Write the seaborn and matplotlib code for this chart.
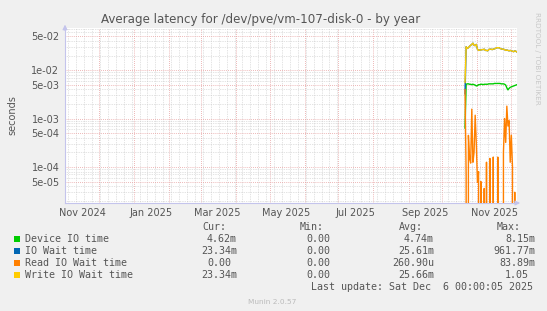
import matplotlib
matplotlib.use("Agg")
import matplotlib.pyplot as plt
import matplotlib.dates as mdates
import matplotlib.ticker as mticker
import matplotlib.transforms as mtransforms
from matplotlib.patches import Rectangle
import pandas as pd
import seaborn as sns

# ---------------- data ----------------
start_day = "2025-10-21"
n_days = 47

device_io = [0.00063, 0.0051, 0.0052, 0.0052, 0.0051, 0.0051, 0.0050, 0.0051, 0.0050, 0.0049,
             0.0047, 0.0048, 0.0050, 0.0050, 0.0051, 0.0051, 0.0050, 0.0051, 0.0051, 0.0051,
             0.0051, 0.0052, 0.0052, 0.0052, 0.0052, 0.0052, 0.0053, 0.0053, 0.0053, 0.0053,
             0.0053, 0.0053, 0.0052, 0.0052, 0.0052, 0.0051, 0.0049, 0.0043, 0.0039, 0.0042,
             0.0044, 0.0045, 0.0046, 0.0047, 0.0048, 0.0049, 0.0050]

io_wait = [0.0032, 0.0303, 0.028, 0.029, 0.031, 0.0325, 0.034, 0.036, 0.0325, 0.032,
           0.034, 0.027, 0.0255, 0.026, 0.026, 0.0265, 0.0265, 0.027, 0.0255, 0.0255,
           0.025, 0.0265, 0.027, 0.027, 0.0265, 0.027, 0.0275, 0.028, 0.029, 0.029,
           0.029, 0.028, 0.0275, 0.027, 0.027, 0.0265, 0.0255, 0.026, 0.0255, 0.025,
           0.0255, 0.025, 0.0245, 0.024, 0.025, 0.0245, 0.0235]

read_wait = [0.004, 6.7e-5, 0, 4.5e-4, 1.5e-4, 1.2e-4, 1.56e-3, 1.25e-4, 2e-4, 1.17e-3,
             3e-4, 4.8e-5, 8e-5, 0, 5e-5, 0, 0, 3.6e-5, 0, 1.25e-4,
             0, 0, 1.5e-4, 0, 0, 1.6e-4, 0, 0, 0, 1.6e-4,
             0, 0, 0, 0, 2e-4, 1.0e-3, 3.2e-4, 1.8e-3, 7e-4, 9e-4,
             1.25e-4, 4.5e-4, 1e-4, 0, 3e-5, 0, 0]

write_wait = [0.0055, 0.0303, 0.028, 0.029, 0.031, 0.0325, 0.034, 0.036, 0.0325, 0.032,
              0.034, 0.027, 0.0255, 0.026, 0.026, 0.0265, 0.0265, 0.027, 0.0255, 0.0255,
              0.025, 0.0265, 0.027, 0.027, 0.0265, 0.027, 0.0275, 0.028, 0.029, 0.029,
              0.029, 0.028, 0.0275, 0.027, 0.027, 0.0265, 0.0255, 0.026, 0.0255, 0.025,
              0.0255, 0.025, 0.0245, 0.024, 0.025, 0.0245, 0.0235]

series_names = ["Device IO time", "IO Wait time", "Read IO Wait time", "Write IO Wait time"]
series_colors = ["#00CC00", "#0066B3", "#FF8000", "#FFCC00"]
cur_vals = ["4.62m", "23.34m", "0.00", "23.34m"]
min_vals = ["0.00", "0.00", "0.00", "0.00"]
avg_vals = ["4.74m", "25.61m", "260.90u", "25.66m"]
max_vals = ["8.15m", "961.77m", "83.89m", "1.05"]

ytick_vals = [5e-5, 1e-4, 5e-4, 1e-3, 5e-3, 1e-2, 5e-2]
ytick_labels = ["5e-05", "1e-04", "5e-04", "1e-03", "5e-03", "1e-02", "5e-02"]
xlabel_months = ["2024-11", "2025-01", "2025-03", "2025-05", "2025-07", "2025-09", "2025-11"]
xlabel_texts = ["Nov 2024", "Jan 2025", "Mar 2025", "May 2025", "Jul 2025", "Sep 2025", "Nov 2025"]

title = "Average latency for /dev/pve/vm-107-disk-0 - by year"
last_update = "Last update: Sat Dec  6 00:00:05 2025"

# ---------------- figure ----------------
sns.set_theme(style="white")
plt.rcParams["font.family"] = ["DejaVu Sans"]

W, H = 547, 311
fig = plt.figure(figsize=(W / 100, H / 100), dpi=100, facecolor="#F0F0F0")
L, R, T, B = 65, 517, 28, 203
ax = fig.add_axes([L / W, 1 - B / H, (R - L) / W, (B - T) / H])
ax.set_facecolor("white")

df = pd.DataFrame({
    "date": pd.date_range(start_day, periods=n_days, freq="D"),
    "device": device_io,
    "iowait": io_wait,
    "read": read_wait,
    "write": write_wait,
})

for col, color in zip(["device", "iowait", "read", "write"], series_colors):
    sns.lineplot(data=df, x="date", y=col, color=color, lw=1.0, ax=ax,
                 estimator=None, legend=False, zorder=3)

ax.set_yscale("log", nonpositive="clip")
ax.set_xlim(pd.Timestamp("2024-11-01"), pd.Timestamp("2025-12-06"))
ax.set_ylim(1.8e-5, 7.4e-2)
ax.set_xlabel("")
ax.set_ylabel("")

# ticks & grid
ax.xaxis.set_major_locator(mdates.MonthLocator())
ax.xaxis.set_major_formatter(mticker.NullFormatter())
ax.xaxis.set_minor_locator(mdates.WeekdayLocator(byweekday=mdates.MO))
ax.set_yticks(ytick_vals, labels=ytick_labels)
ax.yaxis.set_minor_locator(mticker.LogLocator(base=10, subs=(2, 3, 4, 6, 7, 8, 9)))
ax.yaxis.set_minor_formatter(mticker.NullFormatter())

ax.grid(which="minor", color="#C8C8C8", linestyle=(0, (1, 1.5)), lw=0.5, zorder=0)
ax.grid(which="major", color="#E8A0A0", linestyle=(0, (1, 1.5)), lw=0.6, zorder=1)
ax.set_axisbelow(True)

axis_col = "#C4C4EC"
ax.tick_params(which="major", length=2, width=0.6, color=axis_col, labelsize=7,
               labelcolor="#555555", pad=2)
ax.tick_params(which="minor", length=1.2, width=0.5, color=axis_col)
for s in ["top", "right"]:
    ax.spines[s].set_visible(False)
for s in ["left", "bottom"]:
    ax.spines[s].set_color(axis_col)
    ax.spines[s].set_linewidth(0.8)

ax.annotate("", xy=(0, 1.035), xytext=(0, 0.97), xycoords="axes fraction",
            arrowprops=dict(arrowstyle="-|>", color=axis_col, lw=0.8, mutation_scale=7),
            annotation_clip=False)
ax.annotate("", xy=(1.013, 0), xytext=(0.99, 0), xycoords="axes fraction",
            arrowprops=dict(arrowstyle="-|>", color=axis_col, lw=0.8, mutation_scale=7),
            annotation_clip=False)

# x labels centred in the middle of the month
trans = mtransforms.blended_transform_factory(ax.transData, ax.transAxes)
for m, txt in zip(xlabel_months, xlabel_texts):
    xpos = mdates.date2num(pd.Timestamp(m + "-01") + pd.Timedelta(days=15))
    ax.text(xpos, -9.5 / (B - T), txt, transform=trans, ha="center", va="center",
            fontsize=7, color="#555555")

# title / labels
fig.text(261 / W, 1 - 19 / H, title, ha="center", va="center", fontsize=8.6, color="#555555")
fig.text(12 / W, 1 - 115 / H, "seconds", rotation=90, ha="center", va="center",
         fontsize=7, color="#555555")
fig.text(537.5 / W, 1 - 58 / H, "RRDTOOL / TOBI OETIKER", rotation=270, ha="center",
         va="center", fontsize=5.2, color="#C8C8C8")

# legend (monospace)
mono = "DejaVu Sans Mono"
fs = 7.2
tc = "#555555"

def fy(y):
    return 1 - y / H

header_base = 230
for x, h in zip([202, 300, 399, 497], ["Cur:", "Min:", "Avg:", "Max:"]):
    fig.text(x / W, fy(header_base), h, family=mono, fontsize=fs, color=tc,
             ha="left", va="baseline")

col_right = [237, 336, 434, 535]
for i, name in enumerate(series_names):
    base = 242 + 12 * i
    fig.patches.append(Rectangle((14 / W, fy(base)), 6 / W, 6 / H,
                                 transform=fig.transFigure, facecolor=series_colors[i],
                                 edgecolor="none"))
    fig.text(25 / W, fy(base), name, family=mono, fontsize=fs, color=tc,
             ha="left", va="baseline")
    for xr, vals in zip(col_right, [cur_vals, min_vals, avg_vals, max_vals]):
        v = vals[i]
        xx = xr if v[-1].isalpha() else xr - 6
        fig.text(xx / W, fy(base), v, family=mono, fontsize=fs, color=tc,
                 ha="right", va="baseline")

fig.text(311 / W, fy(290.3), last_update, family=mono, fontsize=fs, color=tc,
         ha="left", va="baseline")
fig.text(272 / W, fy(304), "Munin 2.0.57", fontsize=5.3, color="#BBBBBB",
         ha="center", va="baseline")

fig.savefig("out.png", dpi=100, facecolor=fig.get_facecolor())
